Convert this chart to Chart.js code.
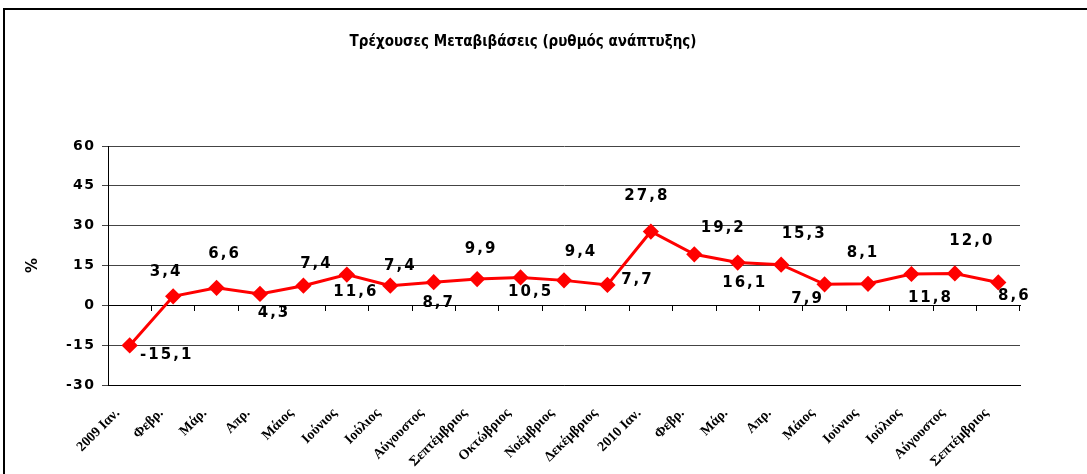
<!DOCTYPE html>
<html>
<head>
<meta charset="utf-8">
<script src="https://cdn.jsdelivr.net/npm/chart.js@4.4.1/dist/chart.umd.min.js"></script>
<style>
    html, body { margin: 0; padding: 0; background: #fff; }
    #wrap { width: 1087px; height: 474px; }
</style>
</head>
<body>
<div id="wrap"><canvas id="chart"></canvas></div>
<script>
// Data
const months = ['2009 Ιαν.', 'Φεβρ.', 'Μάρ.', 'Απρ.', 'Μάιος', 'Ιούνιος', 'Ιούλιος', 'Αύγουστος',
    'Σεπτέμβριος', 'Οκτώβριος', 'Νοέμβριος', 'Δεκέμβριος', '2010 Ιαν.', 'Φεβρ.', 'Μάρ.', 'Απρ.',
    'Μάιος', 'Ιούνιος', 'Ιούλιος', 'Αύγουστος', 'Σεπτέμβριος'];
const growthRate = [-15.1, 3.4, 6.6, 4.3, 7.4, 11.6, 7.4, 8.7, 9.9, 10.5, 9.4, 7.7,
    27.8, 19.2, 16.1, 15.3, 7.9, 8.1, 11.8, 12.0, 8.6];
const yMin = -30;
const yMax = 60;
const yStep = 15;
const chartTitle = 'Τρέχουσες Μεταβιβάσεις (ρυθμός ανάπτυξης)';
const yTitle = '%';

// where each value label sits relative to its point (dx, dy in px)
const labelOffsets = [[37, 10], [-7, -24], [8, -34], [14, 19], [13, -22], [9, 18], [10, -20],
    [5, 21], [4, -30], [10, 15], [17, -28], [30, -5], [-4, -35], [29, -26], [7, 21], [23, -31],
    [-17, 15], [-5, -31], [19, 24], [17, -32], [16, 14]];

const fmt = v => v.toFixed(1).replace('.', ',');
// spread out the tick digits a little, the original uses a wide font
const spread = s => String(s).split('').join('\u200A');

// frame + title drawn straight onto the canvas
const framePlugin = {
    id: 'frame',
    beforeDraw(chart) {
        const ctx = chart.ctx;
        ctx.save();
        ctx.fillStyle = '#fff';
        ctx.fillRect(0, 0, chart.width, chart.height);
        ctx.strokeStyle = '#000';
        ctx.lineWidth = 2;
        ctx.beginPath();
        ctx.moveTo(4, chart.height);
        ctx.lineTo(4, 9);
        ctx.lineTo(chart.width, 9);
        ctx.stroke();
        ctx.fillStyle = '#000';
        ctx.font = 'bold 15px "DejaVu Sans Condensed", "DejaVu Sans"';
        ctx.textAlign = 'center';
        ctx.textBaseline = 'middle';
        ctx.fillText(chartTitle, 523, 42);
        ctx.restore();
    }
};

// value labels next to every point
const valueLabels = {
    id: 'valueLabels',
    afterDatasetsDraw(chart) {
        const ctx = chart.ctx;
        const meta = chart.getDatasetMeta(0);
        ctx.save();
        ctx.fillStyle = '#000';
        ctx.font = 'bold 15px "DejaVu Sans"';
        ctx.letterSpacing = '2px';
        ctx.textAlign = 'center';
        ctx.textBaseline = 'middle';
        meta.data.forEach((pt, i) => {
            const off = labelOffsets[i];
            ctx.fillText(fmt(growthRate[i]), pt.x + off[0], pt.y + off[1]);
        });
        ctx.restore();
    }
};

const chart = new Chart(document.getElementById('chart'), {
    type: 'line',
    data: {
        labels: months,
        datasets: [{
            data: growthRate,
            borderColor: '#ff0000',
            backgroundColor: '#ff0000',
            borderWidth: 3,
            pointStyle: 'rectRot',
            pointRadius: 6,
            pointHoverRadius: 6,
            tension: 0,
            xAxisID: 'x'
        }]
    },
    options: {
        responsive: true,
        maintainAspectRatio: false,
        animation: false,
        events: [],
        layout: { padding: { left: 20, right: 67, top: 146, bottom: 0 } },
        plugins: {
            legend: { display: false },
            tooltip: { enabled: false }
        },
        scales: {
            x: {
                type: 'category',
                offset: true,
                grid: { display: false },
                border: { display: true, color: '#000', width: 1 },
                ticks: {
                    autoSkip: false,
                    minRotation: 45,
                    maxRotation: 45,
                    padding: 12,
                    labelOffset: -12,
                    color: '#000',
                    font: { family: '"Liberation Serif"', weight: 'bold', size: 14 }
                },
                afterFit(s) { s.height = 89; }
            },
            xZero: {
                type: 'category',
                position: { y: 0 },
                offset: true,
                grid: {
                    display: true,
                    drawOnChartArea: false,
                    drawTicks: true,
                    tickLength: 5,
                    offset: true,
                    color: '#000'
                },
                border: { display: true, color: '#000', width: 1 },
                ticks: { display: false }
            },
            y: {
                min: yMin,
                max: yMax,
                grid: { color: '#444', lineWidth: 1, drawTicks: true, tickLength: 6 },
                border: { display: true, color: '#000', width: 1 },
                ticks: {
                    stepSize: yStep,
                    padding: 8,
                    color: '#000',
                    font: { family: '"DejaVu Sans"', weight: 'bold', size: 14 },
                    callback: v => spread(v)
                },
                title: {
                    display: true,
                    text: yTitle,
                    color: '#000',
                    padding: 4,
                    font: { family: '"DejaVu Sans"', weight: 'bold', size: 15 }
                },
                afterFit(s) { s.width = 88; }
            }
        }
    },
    plugins: [framePlugin, valueLabels]
});
</script>
</body>
</html>
